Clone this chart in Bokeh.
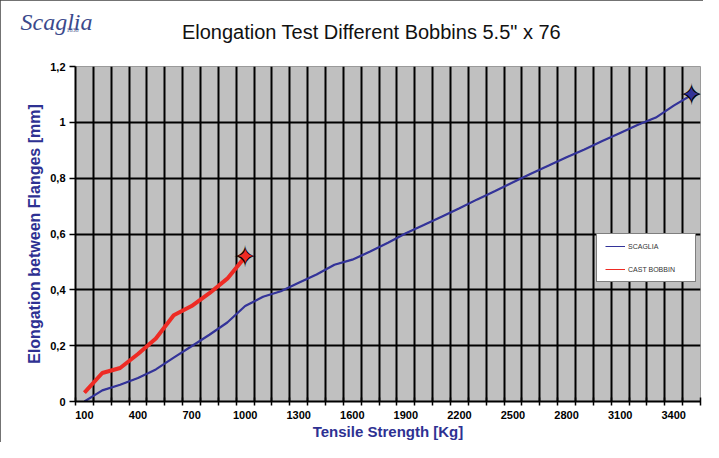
from bokeh.plotting import figure
from bokeh.models import Range1d, FixedTicker, Label, Legend, LegendItem
from bokeh.embed import file_html
from bokeh.resources import INLINE
from bokeh.core.properties import value

# ---- data ----
tensile = [100, 200, 300, 400, 500, 600, 700, 800, 900, 1000,
           1100, 1200, 1300, 1400, 1500, 1600, 1700, 1800, 1900, 2000,
           2100, 2200, 2300, 2400, 2500, 2600, 2700, 2800, 2900, 3000,
           3100, 3200, 3300, 3400, 3500]
scaglia = [0.000, 0.040, 0.060, 0.084, 0.115, 0.157, 0.198, 0.239, 0.283, 0.342,
           0.375, 0.395, 0.425, 0.455, 0.490, 0.508, 0.537, 0.569, 0.603, 0.632,
           0.662, 0.692, 0.724, 0.754, 0.785, 0.816, 0.845, 0.875, 0.903, 0.933,
           0.962, 0.991, 1.017, 1.060, 1.098]
cast_tensile = [100, 200, 300, 400, 500, 600, 700, 800, 900, 1000]
cast_bobbin = [0.032, 0.102, 0.120, 0.170, 0.226, 0.309, 0.342, 0.388, 0.440, 0.518]

x_label_ticks = [100, 400, 700, 1000, 1300, 1600, 1900, 2200, 2500, 2800, 3100, 3400]
y_ticks = [0, 0.2, 0.4, 0.6, 0.8, 1.0, 1.2]
y_labels = ["0", "0,2", "0,4", "0,6", "0,8", "1", "1,2"]

title_text = "Elongation Test Different Bobbins 5.5\" x 76"
x_title = "Tensile Strength [Kg]"
y_title = "Elongation between Flanges [mm]"
series_names = ["SCAGLIA", "CAST BOBBIN"]
logo_text = "Scaglia"
logo_year = "1838"

BLUE = "#333399"
RED = "#ee2b24"
NAVY_TXT = "#2e3192"

# category boundaries (Excel category axis: ticks between categories)
boundaries = [t - 50 for t in tensile] + [tensile[-1] + 50]

p = figure(width=703, height=442, output_backend="svg", toolbar_location=None,
           x_range=Range1d(boundaries[0], boundaries[-1]), y_range=Range1d(y_ticks[0], y_ticks[-1]),
           min_border_left=75, min_border_right=3, min_border_top=66, min_border_bottom=40,
           background_fill_color="#c0c0c0", border_fill_color="white",
           outline_line_color="#9a9a9a", outline_line_width=1,
           styles={"outline": "2px solid #444444", "outline-offset": "-2px"})

# grids
p.xgrid.ticker = FixedTicker(ticks=boundaries[1:-1])
p.xgrid.grid_line_color = "black"
p.xgrid.grid_line_width = 2
p.ygrid.ticker = FixedTicker(ticks=y_ticks[1:-1])
p.ygrid.grid_line_color = "black"
p.ygrid.grid_line_width = 2

# x axis
xa = p.xaxis[0]
xa.ticker = FixedTicker(ticks=x_label_ticks, minor_ticks=boundaries)
xa.major_tick_line_color = None
xa.major_tick_out = 4
xa.major_tick_in = 0
xa.minor_tick_line_color = "black"
xa.minor_tick_line_width = 1.5
xa.minor_tick_in = 4
xa.minor_tick_out = 4
xa.axis_line_color = "black"
xa.axis_line_width = 2
xa.major_label_text_font = "Liberation Sans"
xa.major_label_text_font_style = "bold"
xa.major_label_text_font_size = "11px"
xa.major_label_text_color = "black"
xa.major_label_standoff = 5
xa.axis_label = x_title
xa.axis_label_text_font = "Liberation Sans"
xa.axis_label_text_font_style = "bold"
xa.axis_label_text_font_size = "15px"
xa.axis_label_text_color = NAVY_TXT
xa.axis_label_standoff = 1

# y axis
ya = p.yaxis[0]
ya.ticker = FixedTicker(ticks=y_ticks)
ya.major_label_overrides = dict(zip(y_ticks, y_labels))
ya.major_tick_line_color = "black"
ya.major_tick_line_width = 1.5
ya.major_tick_out = 6
ya.major_tick_in = 0
ya.minor_tick_line_color = None
ya.axis_line_color = "black"
ya.axis_line_width = 2
ya.major_label_text_font = "Liberation Sans"
ya.major_label_text_font_style = "bold"
ya.major_label_text_font_size = "11px"
ya.major_label_text_color = "black"
ya.major_label_standoff = 4
ya.axis_label = y_title
ya.axis_label_text_font = "Liberation Sans"
ya.axis_label_text_font_style = "bold"
ya.axis_label_text_font_size = "16px"
ya.axis_label_text_color = NAVY_TXT
ya.axis_label_standoff = 4

# thin versions of the series (used as legend samples, covered by the thick lines)
r1 = p.line(tensile, scaglia, line_color=BLUE, line_width=1)
r2 = p.line(cast_tensile, cast_bobbin, line_color=RED, line_width=1)

# data lines
p.line(tensile, scaglia, line_color=BLUE, line_width=2.2)
p.line(cast_tensile, cast_bobbin, line_color=RED, line_width=4)

# 4-point star markers at the end of each series
for xs, ys, col in ((tensile, scaglia, BLUE), (cast_tensile, cast_bobbin, RED)):
    p.text(x=[xs[-1]], y=[ys[-1]], text=["\u2726"], text_font=value("DejaVu Sans"),
           text_font_size="30px", text_color="black", text_align="center", text_baseline="middle")
    p.text(x=[xs[-1]], y=[ys[-1]], text=["\u2726"], text_font=value("DejaVu Sans"),
           text_font_size="22px", text_color=col, text_align="center", text_baseline="middle")

legend = Legend(items=[LegendItem(label=series_names[0], renderers=[r1]),
                       LegendItem(label=series_names[1], renderers=[r2])],
                location=(521, 119), margin=0, padding=8, spacing=15,
                glyph_width=20, glyph_height=8, label_height=8, label_width=59,
                label_standoff=3, label_text_font="Liberation Sans",
                label_text_font_size="7px", label_text_color="#333333",
                border_line_color="black", border_line_width=1,
                background_fill_color="white", background_fill_alpha=1)
p.add_layout(legend)

# title and logo: labels in the top side panel (not clipped to the plot frame)
p.add_layout(Label(x=371, y=31, x_units="canvas", y_units="canvas", text=title_text,
                   text_align="center", text_baseline="alphabetic",
                   text_font="Liberation Sans", text_font_size="20px", text_color="#111111"), "above")
p.add_layout(Label(x=20, y=21, x_units="canvas", y_units="canvas", text=logo_text,
                   text_align="left", text_baseline="alphabetic",
                   text_font="Liberation Serif", text_font_style="italic",
                   text_font_size="24px", text_color="#3b4a8c"), "above")
p.add_layout(Label(x=72, y=29, x_units="canvas", y_units="canvas", text=logo_year,
                   text_align="center", text_baseline="alphabetic",
                   text_font="Liberation Serif", text_font_size="6px", text_color="#3b4a8c"), "above")

open("out.html", "w").write(file_html(p, INLINE))
